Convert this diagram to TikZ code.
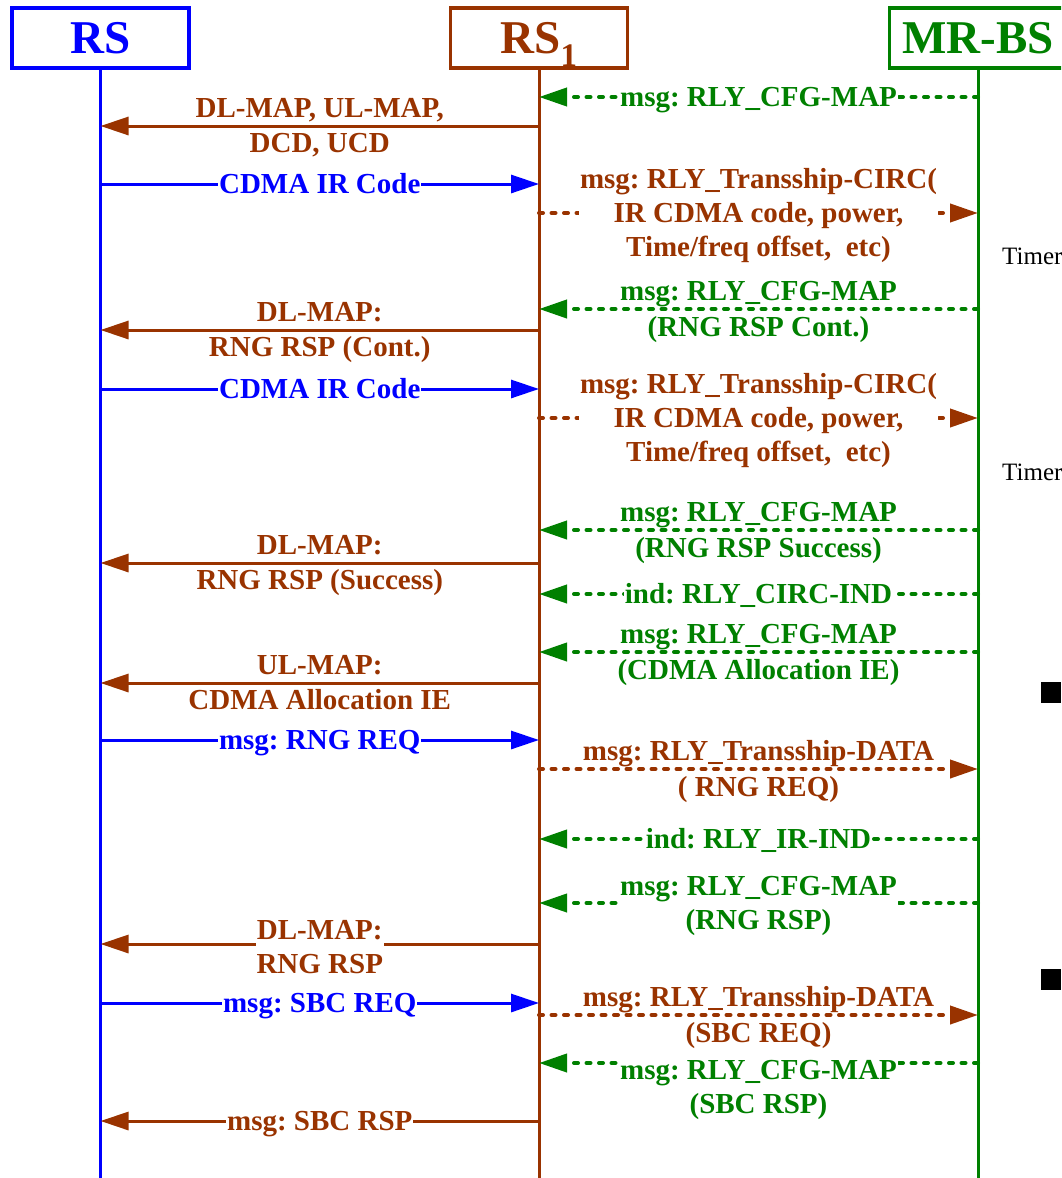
\documentclass[tikz,border=0pt]{standalone}
\usepackage{fontspec}
\setmainfont{Liberation Serif}
\usetikzlibrary{arrows.meta,positioning}
\frenchspacing

\definecolor{rsblue}{RGB}{0,0,255}
\definecolor{relaybrown}{RGB}{153,51,0}
\definecolor{bsgreen}{RGB}{0,128,0}

\begin{document}
\begin{tikzpicture}[x=1pt, y=-1pt, >={Triangle[length=28pt,width=18pt]},
  head/.style={draw, rectangle, line width=3.5pt, minimum width=177pt, minimum height=60pt, inner sep=0pt,
    text height=33pt, text depth=2pt, font=\fontsize{47}{50}\selectfont\bfseries},
  life/.style={line width=3pt},
  solidmsg/.style={->, line width=3pt},
  dotmsg/.style={->, line width=4pt, line cap=round, dash pattern=on 4pt off 8.5pt},
  lbl/.style={inner sep=0pt, text height=20pt, text depth=6pt, font=\fontsize{29}{34}\selectfont\bfseries},
  inlbl/.style={lbl, midway, fill=white, inner xsep=1pt, yshift=-2pt},
  blk/.style={midway, fill=white, align=center, inner xsep=1pt, inner ysep=0pt, yshift=-3pt, font=\fontsize{29}{34}\selectfont\bfseries},
  timer/.style={anchor=west, inner sep=0pt, font=\fontsize{25}{27}\selectfont}]
  \useasboundingbox (0,0) rectangle (1061,1178);
  \clip (0,0) rectangle (1061,1178);

  % lifelines
  \node [head, draw=rsblue, text=rsblue] (rs) at (100.5,38) {RS};
  \node [head, draw=relaybrown, text=relaybrown] (rsone) at (539,38) {RS\textsubscript{1}};
  \node [head, draw=bsgreen, text=bsgreen] (mrbs) at (978,38) {MR-BS};
  \coordinate (rsend) at (rs.south |- 0,1180);
  \coordinate (rsoneend) at (rsone.south |- 0,1180);
  \coordinate (mrbsend) at (mrbs.south |- 0,1180);
  \draw [life, rsblue] (rs) -- (rsend);
  \draw [life, relaybrown] (rsone) -- (rsoneend);
  \draw [life, bsgreen] (mrbs) -- (mrbsend);

  % message rows
  \foreach \n/\y in {1/97, 2/126, 3/184, 4/213, 6/309, 7/330, 8/389, 9/418,
                     11/530, 12/563, 13/594, 14/652, 15/683, 16/740, 17/769,
                     18/839, 19/903, 20/944, 21/1003, 22/1015, 23/1063, 24/1121}
    \coordinate (m\n) at (0,\y);

  \draw [dotmsg, bsgreen] (mrbs |- m1) -- (rsone |- m1) node [inlbl] {msg: RLY\_CFG-MAP};
  \draw [solidmsg, relaybrown] (rsone |- m2) -- (rs |- m2)
    node [lbl, midway, above=1pt] {DL-MAP, UL-MAP,} node [lbl, midway, below=5pt] {DCD, UCD};
  \draw [solidmsg, rsblue] (rs |- m3) -- (rsone |- m3) node [inlbl] {CDMA IR Code};
  \draw [dotmsg, relaybrown] (rsone |- m4) -- (mrbs |- m4)
    node [blk] {msg: RLY\_Transship-CIRC(\\IR CDMA code, power,\\Time/freq offset,~ etc)};
  \node [timer] (timerone) at (1002,256) {Timer};

  \draw [dotmsg, bsgreen] (mrbs |- m6) -- (rsone |- m6)
    node [lbl, midway, above=1pt] {msg: RLY\_CFG-MAP} node [lbl, midway, below=5pt] {(RNG RSP Cont.)};
  \draw [solidmsg, relaybrown] (rsone |- m7) -- (rs |- m7)
    node [lbl, midway, above=1pt] {DL-MAP:} node [lbl, midway, below=5pt] {RNG RSP (Cont.)};
  \draw [solidmsg, rsblue] (rs |- m8) -- (rsone |- m8) node [inlbl] {CDMA IR Code};
  \draw [dotmsg, relaybrown] (rsone |- m9) -- (mrbs |- m9)
    node [blk] {msg: RLY\_Transship-CIRC(\\IR CDMA code, power,\\Time/freq offset,~ etc)};
  \node [timer] (timertwo) at (1002,472) {Timer};

  \draw [dotmsg, bsgreen] (mrbs |- m11) -- (rsone |- m11)
    node [lbl, midway, above=1pt] {msg: RLY\_CFG-MAP} node [lbl, midway, below=5pt] {(RNG RSP Success)};
  \draw [solidmsg, relaybrown] (rsone |- m12) -- (rs |- m12)
    node [lbl, midway, above=1pt] {DL-MAP:} node [lbl, midway, below=5pt] {RNG RSP (Success)};
  \draw [dotmsg, bsgreen] (mrbs |- m13) -- (rsone |- m13) node [inlbl] {ind: RLY\_CIRC-IND};
  \draw [dotmsg, bsgreen] (mrbs |- m14) -- (rsone |- m14)
    node [lbl, midway, above=1pt] {msg: RLY\_CFG-MAP} node [lbl, midway, below=5pt] {(CDMA Allocation IE)};
  \draw [solidmsg, relaybrown] (rsone |- m15) -- (rs |- m15)
    node [lbl, midway, above=1pt] {UL-MAP:} node [lbl, midway, below=5pt] {CDMA Allocation IE};
  \fill (1041,682) rectangle (1061,703);

  \draw [solidmsg, rsblue] (rs |- m16) -- (rsone |- m16) node [inlbl] {msg: RNG REQ};
  \draw [dotmsg, relaybrown] (rsone |- m17) -- (mrbs |- m17)
    node [lbl, midway, above=1pt] {msg: RLY\_Transship-DATA} node [lbl, midway, below=5pt] {( RNG REQ)};
  \draw [dotmsg, bsgreen] (mrbs |- m18) -- (rsone |- m18) node [inlbl] {ind: RLY\_IR-IND};
  \draw [dotmsg, bsgreen] (mrbs |- m19) -- (rsone |- m19)
    node [blk] {msg: RLY\_CFG-MAP\\(RNG RSP)};
  \draw [solidmsg, relaybrown] (rsone |- m20) -- (rs |- m20)
    node [blk] {DL-MAP:\\RNG RSP};
  \fill (1041,969) rectangle (1061,990);

  \draw [solidmsg, rsblue] (rs |- m21) -- (rsone |- m21) node [inlbl] {msg: SBC REQ};
  \draw [dotmsg, relaybrown] (rsone |- m22) -- (mrbs |- m22)
    node [lbl, midway, above=1pt] {msg: RLY\_Transship-DATA} node [lbl, midway, below=5pt] {(SBC REQ)};
  \draw [dotmsg, bsgreen] (mrbs |- m23) -- (rsone |- m23)
    node [blk, inner ysep=4pt, yshift=-24pt] {msg: RLY\_CFG-MAP\\(SBC RSP)};
  \draw [solidmsg, relaybrown] (rsone |- m24) -- (rs |- m24) node [inlbl] {msg: SBC RSP};
\end{tikzpicture}
\end{document}
